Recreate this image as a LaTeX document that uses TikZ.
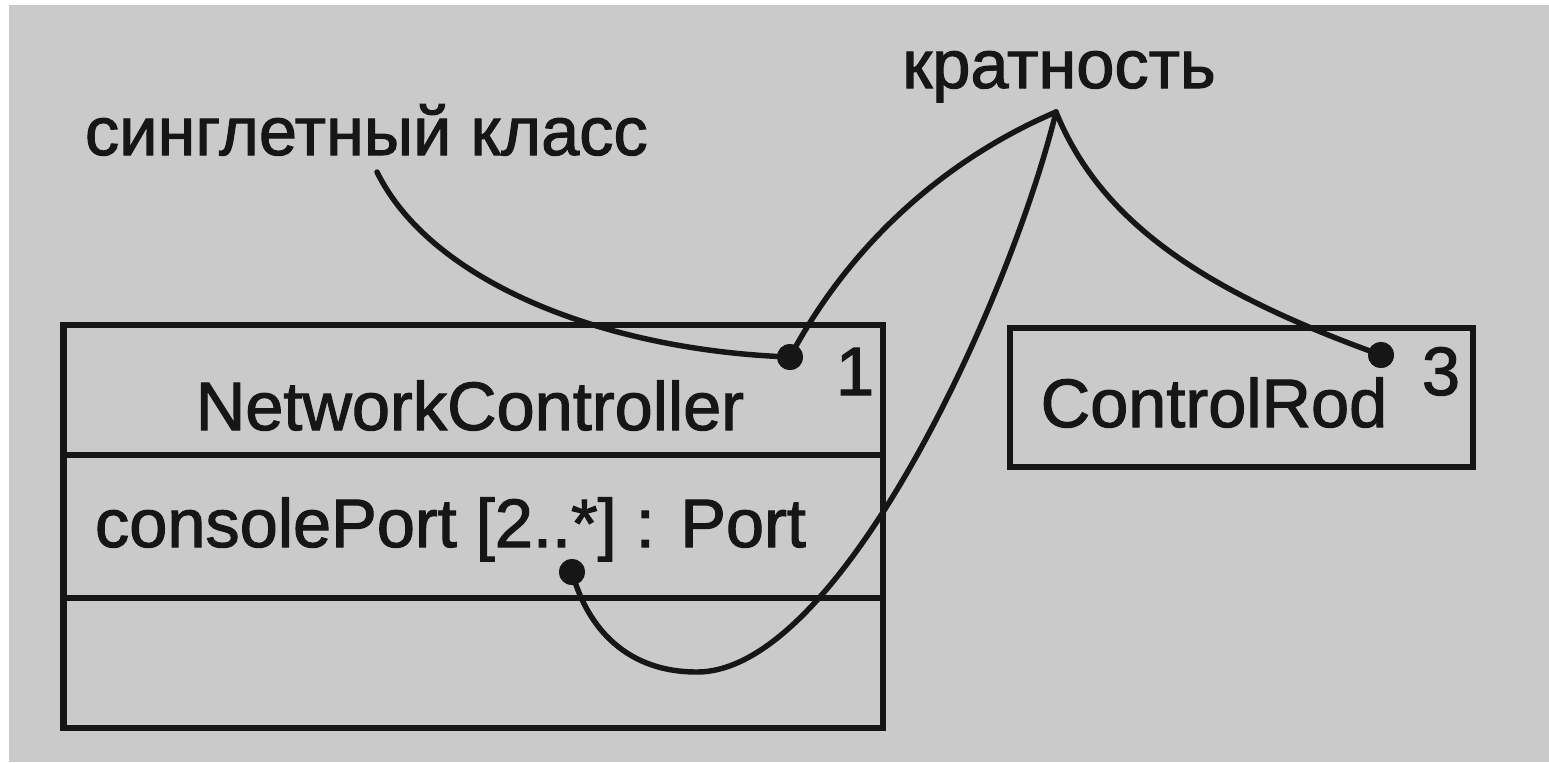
\documentclass[tikz,border=0pt]{standalone}
\usepackage{fontspec}
\setmainfont{Liberation Sans}[FakeBold=1.6]
\definecolor{paper}{RGB}{202,202,202}
\definecolor{ink}{RGB}{22,22,22}
\begin{document}
\begin{tikzpicture}[x=0.02cm,y=-0.02cm,
  txt/.style={font=\fontsize{39}{46}\selectfont, text=ink, inner sep=0, outer sep=0},
  umlbox/.style={draw=ink, line width=3.9pt, inner sep=0, outer sep=0},
  divider/.style={draw=ink, line width=3.9pt},
  link/.style={draw=ink, line width=3.1pt, line cap=round, line join=round},
  enddot/.style={circle, fill=ink, inner sep=0, minimum size=0.52cm}]
\useasboundingbox (0,0) rectangle (1549,762);
\fill[white] (0,0) rectangle (1549,762);
\fill[paper] (9,5) rectangle (1549,762);

% class NetworkController with its three compartments
\node[umlbox, minimum width=16.4cm, minimum height=8.06cm] (nc) at (473,526.5) {};
\draw[divider] (63,455) -- (883,455);
\draw[divider] (63,598) -- (883,598);
\node[txt, anchor=base] (ncname) at (470,430) {NetworkController};
\node[txt, anchor=base] (m1) at (855,395) {1};
\node[txt, anchor=base west] (attr) at (95,547) {consolePort [2..*] : Port};

% class ControlRod
\node[umlbox, minimum width=9.26cm, minimum height=2.78cm] (cr) at (1241.5,397.5) {};
\node[txt, anchor=base] (crname) at (1214,427) {ControlRod};
\node[txt, anchor=base] (m3) at (1441,395) {3};

% annotations
\node[txt, anchor=base west] (single) at (85,155) {синглетный класс};
\node[txt, anchor=base] (mult) at (1059,88) {кратность};

% connector end points
\coordinate (stail) at (377,172);
\coordinate (apex) at (1056,112);
\coordinate (loop) at (697,672);
\node[enddot] (d1) at (790,357) {};
\node[enddot] (d2) at (572,572) {};
\node[enddot] (d3) at (1381,355) {};

% connectors
\draw[link] (stail) .. controls (430,280) and (600,350) .. (d1.center);
\draw[link] (apex) .. controls (955,155) and (855,235) .. (d1.center);
\draw[link] (apex) .. controls (1010,300) and (840,672) .. (loop)
  .. controls (620,672) and (585,620) .. (d2.center);
\draw[link] (apex) .. controls (1100,220) and (1200,290) .. (d3.center);

% dots on top of the lines
\node[enddot] at (d1) {};
\node[enddot] at (d2) {};
\node[enddot] at (d3) {};
\end{tikzpicture}
\end{document}
